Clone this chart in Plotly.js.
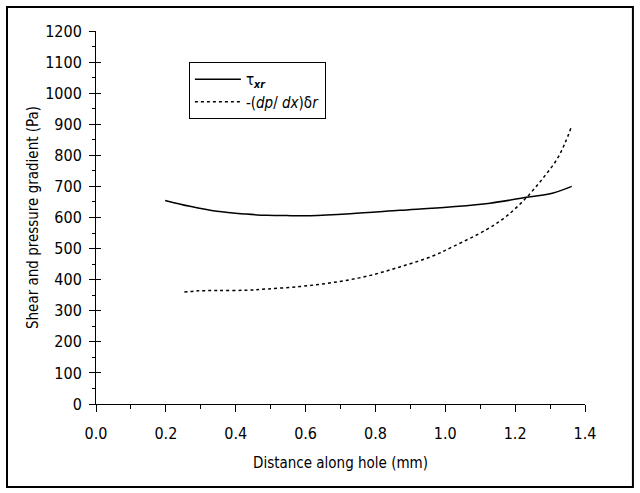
<!DOCTYPE html>
<html>
<head>
<meta charset="utf-8">
<script src="https://cdn.plot.ly/plotly-3.0.1.min.js"></script>
<style>
  html, body { margin: 0; padding: 0; background: #fff; }
  #chart { width: 640px; height: 493px; }
</style>
</head>
<body>
<div id="chart"></div>
<script>
// Shear stress tau_xr along the hole
const tauX = [0.198, 0.269, 0.346, 0.430, 0.489, 0.559, 0.613, 0.728, 0.870, 1.013, 1.128, 1.233, 1.309, 1.362];
const tauY = [655, 636, 620, 611, 607, 606, 606, 612, 623, 634, 646, 665, 679, 700];

// Pressure gradient term -(dp/dx) delta r
const gradX = [0.253, 0.290, 0.346, 0.430, 0.489, 0.584, 0.679, 0.775, 0.870, 0.966, 1.023, 1.118, 1.175, 1.233, 1.280, 1.319, 1.343, 1.362];
const gradY = [360, 364, 365, 366, 370, 378, 391, 411, 441, 477, 507, 561, 604, 665, 727, 786, 840, 895];

const seriesNames = ['τ<sub><b><i>xr</i></b></sub>', '-(<i>dp</i>/ <i>dx</i>)δ<i>r</i>'];
const xTickVals = [0, 0.2, 0.4, 0.6, 0.8, 1.0, 1.2, 1.4];
const xTickText = ['0.0', '0.2', '0.4', '0.6', '0.8', '1.0', '1.2', '1.4'];
const yTickVals = [0, 100, 200, 300, 400, 500, 600, 700, 800, 900, 1000, 1100, 1200];

const FONT = '"Liberation Sans Narrow", "Arial Narrow", "DejaVu Sans Condensed", sans-serif';

const traces = [
  { x: tauX, y: tauY, name: seriesNames[0], mode: 'lines',
    line: { color: '#000', width: 1.5, shape: 'spline', smoothing: 1 } },
  { x: gradX, y: gradY, name: seriesNames[1], mode: 'lines',
    line: { color: '#000', width: 1.5, dash: 'dot', shape: 'spline', smoothing: 1 } },
  // invisible helper so the overlay axis (crossing y ticks) is drawn
  { x: [0], y: [0], yaxis: 'y2', mode: 'markers', marker: { opacity: 0 },
    showlegend: false, hoverinfo: 'skip' }
];

const layout = {
  width: 640, height: 493,
  margin: { l: 96, r: 55, t: 31, b: 89 },
  paper_bgcolor: '#fff', plot_bgcolor: '#fff',
  font: { family: FONT, size: 16, color: '#000' },
  showlegend: true,
  legend: {
    x: 0.19, y: 0.917, xanchor: 'left', yanchor: 'top',
    bordercolor: '#000', borderwidth: 1, bgcolor: '#fff',
    font: { family: FONT, size: 15, color: '#000' },
    itemwidth: 46, tracegroupgap: 0
  },
  xaxis: {
    range: [0, 1.4], tickmode: 'array', tickvals: xTickVals, ticktext: xTickText,
    ticks: 'outside', ticklen: 7, tickwidth: 1, tickcolor: '#000',
    minor: { dtick: 0.1, ticks: 'outside', ticklen: 4, tickcolor: '#000', showgrid: false },
    showline: true, linecolor: '#000', linewidth: 1,
    showgrid: false, zeroline: false, ticklabelstandoff: 8,
    tickfont: { family: FONT, size: 16 },
    title: { text: 'Distance along hole (mm)', font: { family: FONT, size: 15 }, standoff: 15 }
  },
  yaxis: {
    range: [0, 1200], tickmode: 'array', tickvals: yTickVals,
    ticks: 'outside', ticklen: 6, tickwidth: 1, tickcolor: '#000',
    minor: { dtick: 50, ticks: 'outside', ticklen: 3, tickcolor: '#000', showgrid: false },
    showline: true, linecolor: '#000', linewidth: 1,
    showgrid: false, zeroline: false, ticklabelstandoff: 4,
    tickfont: { family: FONT, size: 16 },
    title: { text: 'Shear and pressure gradient (Pa)', font: { family: FONT, size: 15 }, standoff: 2 }
  },
  yaxis2: {
    range: [0, 1200], overlaying: 'y', side: 'left', tickmode: 'array', tickvals: yTickVals,
    ticks: 'inside', ticklen: 5, tickwidth: 1, tickcolor: '#000',
    showticklabels: false, showline: false, showgrid: false, zeroline: false
  },
  shapes: [
    { type: 'rect', xref: 'paper', yref: 'paper',
      x0: -0.182, x1: 1.098, y0: -0.2225, y1: 1.0643,
      line: { color: '#000', width: 2 }, fillcolor: 'rgba(0,0,0,0)' }
  ]
};

Plotly.newPlot('chart', traces, layout, { staticPlot: true, displayModeBar: false });
</script>
</body>
</html>
